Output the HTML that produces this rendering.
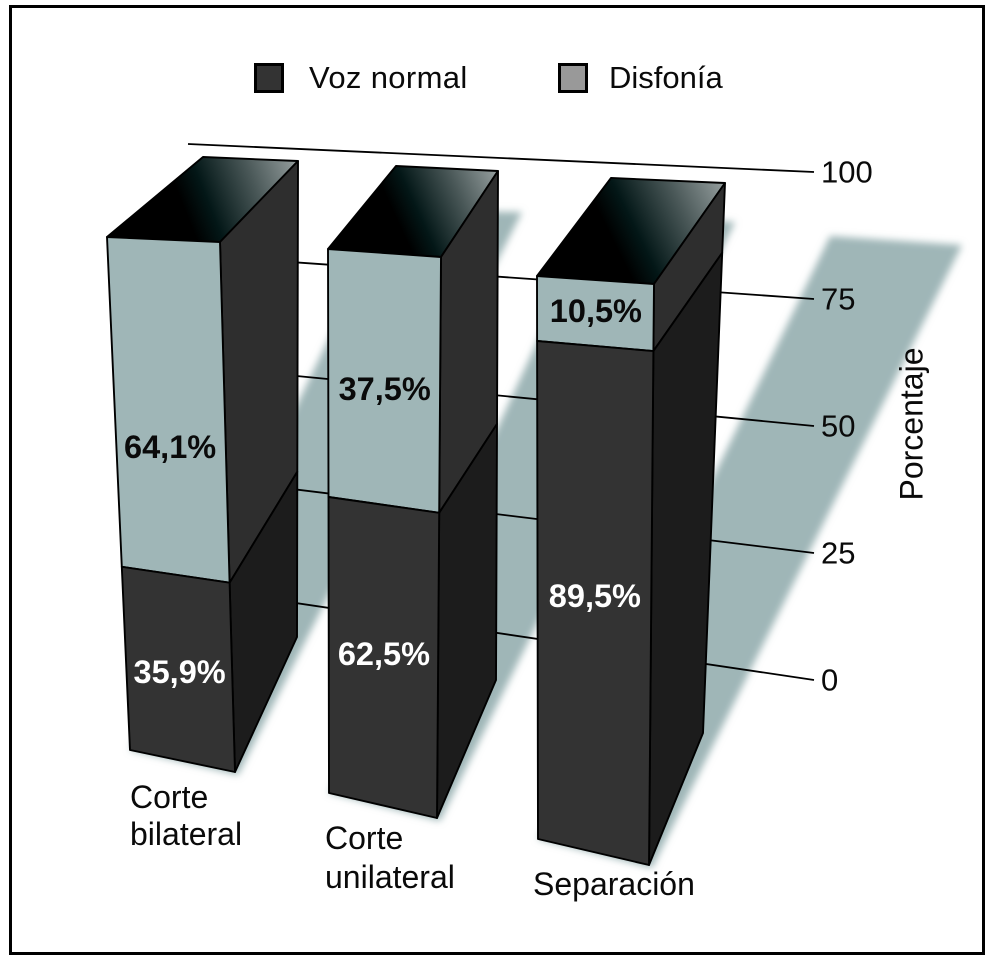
<!DOCTYPE html>
<html lang="es">
<head>
<meta charset="utf-8">
<title>Voz normal y disfonía por tipo de corte</title>
<style>
html,body{margin:0;padding:0;background:#fff;}
svg{display:block;}
text{font-family:"Liberation Sans",Arial,sans-serif;fill:#0a0a0a;}
</style>
</head>
<body>
<svg id="chart" xmlns="http://www.w3.org/2000/svg" width="995" height="960" viewBox="0 0 995 960">
  <defs id="defs">
    <filter id="shadowBlur" x="-10%" y="-10%" width="120%" height="120%">
      <feGaussianBlur stdDeviation="3.6"/>
    </filter>
  </defs>
  <rect x="10.5" y="6.5" width="973" height="947" fill="#fff" stroke="#000" stroke-width="3"/>
  <g>
    <rect x="255.5" y="64.5" width="27" height="27" fill="#333" stroke="#000" stroke-width="3"/>
    <text x="309" y="88" font-size="31" letter-spacing="0.35">Voz normal</text>
    <rect x="559.5" y="64.5" width="27" height="27" fill="#999" stroke="#000" stroke-width="3"/>
    <text x="609" y="88" font-size="31">Disfonía</text>
  </g>
  <g id="shadows" filter="url(#shadowBlur)"></g>
  <g id="grid"></g>
  <g id="ticks"></g>
  <g id="bars"></g>
  <g id="categories"></g>
  <text transform="translate(922.5 424) rotate(-90)" text-anchor="middle" font-size="32">Porcentaje</text>
</svg>
<script>
// ---- data ----
const categories = [["Corte", "bilateral"], ["Corte", "unilateral"], ["Separación"]];
const vozNormal = [35.9, 62.5, 89.5];
const disfonia = [64.1, 37.5, 10.5];
const tickValues = [0, 25, 50, 75, 100];
const tickLabels = ["0", "25", "50", "75", "100"];

// ---- layout: perspective frame of each bar (value 0 and value 100 of each vertical edge) ----
const barFrames = [
  { fl:[130,750,107,237], fr:[235,772,220,242], br:[297,637,298,161], bl:[203,157],
    frontWarp:1.005, backWarp:1.033, shadowTop:[[391,210],[522,212]], nudge:[4,40] },
  { fl:[329,793,328,249], fr:[437,818,441,257], br:[496,680,498,171], bl:[396,166],
    frontWarp:1.295, backWarp:1.462, shadowTop:[[597,212],[735,222]], nudge:[-1,10] },
  { fl:[538,839,537,276], fr:[649,865,654,284], br:[703,733,725,183], bl:[611,178],
    frontWarp:1.106, backWarp:1.223, shadowTop:[[830,236],[962,245]], nudge:[-3,-2] }
];
const categoryAnchors = [
  { x:130, y:[808,845] },
  { x:325, y:[849,888] },
  { x:533, y:[895] }
];

const NS = "http://www.w3.org/2000/svg";
function svgEl(tag, attrs, parent) {
  const el = document.createElementNS(NS, tag);
  for (const k in attrs) el.setAttribute(k, attrs[k]);
  parent.appendChild(el);
  return el;
}
function lerp(a, b, t) { return a + (b - a) * t; }
function pts(list) { return list.map(p => p[0].toFixed(1) + "," + p[1].toFixed(1)).join(" "); }

// ---- axis functions ----
const gridX0 = 188, gridX1 = 814;
function gridLeftY(v) { return lerp(587, 144, v / 100); }
function gridRightY(v) { return lerp(680, 172, v / 100); }

function edgePoint(edge, v, warp) {
  const t = Math.pow(Math.max(0, v) / 100, warp);
  return [lerp(edge[0], edge[2], t), lerp(edge[1], edge[3], t)];
}
function frontLeft(f, v) { return edgePoint(f.fl, v, f.frontWarp); }
function frontRight(f, v) { return edgePoint(f.fr, v, f.frontWarp); }
function backRight(f, v) { return edgePoint(f.br, v, f.backWarp); }
function backLeft(f, v) {
  // hidden rear-left corner follows the rear-right edge
  const p = backRight(f, v), top = backRight(f, 100);
  return [f.bl[0] + (p[0] - top[0]), f.bl[1] + (p[1] - top[1])];
}

const defs = document.getElementById("defs");
const gridG = document.getElementById("grid");
const ticksG = document.getElementById("ticks");
const barsG = document.getElementById("bars");
const shadowsG = document.getElementById("shadows");
const catG = document.getElementById("categories");

// ---- shadows ----
barFrames.forEach(function (f, i) {
  const t = (vozNormal[i] + disfonia[i]) / 100;
  const a = [f.fl[0], f.fl[1]], b = [f.fr[0] + 3, f.fr[1] + 3];
  const tl = [lerp(a[0], f.shadowTop[0][0], t), lerp(a[1], f.shadowTop[0][1], t)];
  const tr = [lerp(b[0], f.shadowTop[1][0], t), lerp(b[1], f.shadowTop[1][1], t)];
  const s = svgEl("polygon", { points: pts([a, b, tr, tl]), fill: "#9fb6b7" }, shadowsG);
  
  
});

// ---- grid and ticks ----
tickValues.forEach(function (v, i) {
  const line = svgEl("line", { x1: gridX0, y1: gridLeftY(v), x2: gridX1, y2: gridRightY(v), stroke: "#000", "stroke-width": 1.8 }, gridG);
  
  
  const label = svgEl("text", { x: 821, y: gridRightY(v) + 10.5, "font-size": 31 }, ticksG);
  label.textContent = tickLabels[i];
  
  
});

// ---- bars ----
function formatPercent(v) { return v.toFixed(1).replace(".", ",") + "%"; }

function topGradient(f, total, i) {
  const p0 = frontLeft(f, total), p1 = backRight(f, total);
  const grad = svgEl("linearGradient", { id: "topGradient" + i, gradientUnits: "userSpaceOnUse", x1: p0[0], y1: p0[1], x2: p1[0], y2: p1[1] }, defs);
  svgEl("stop", { offset: 0, "stop-color": "#000" }, grad);
  svgEl("stop", { offset: 0.4, "stop-color": "#000" }, grad);
  svgEl("stop", { offset: 0.52, "stop-color": "#031717" }, grad);
  svgEl("stop", { offset: 0.76, "stop-color": "#4a5858" }, grad);
  svgEl("stop", { offset: 1, "stop-color": "#969f9f" }, grad);
  return "url(#topGradient" + i + ")";
}

barFrames.forEach(function (f, i) {
  const split = vozNormal[i];
  const total = vozNormal[i] + disfonia[i];
  const g = svgEl("g", {}, barsG);
  
  
  const stroke = { stroke: "#000", "stroke-width": 1.9, "stroke-linejoin": "round" };

  const top = svgEl("polygon", Object.assign({ points: pts([frontLeft(f, total), frontRight(f, total), backRight(f, total), backLeft(f, total)]), fill: topGradient(f, total, i) }, stroke), g);
  
  

  const sideUpper = svgEl("polygon", Object.assign({ points: pts([frontRight(f, split), backRight(f, split), backRight(f, total), frontRight(f, total)]), fill: "#2e2e2e" }, stroke), g);
  
  

  const sideLower = svgEl("polygon", Object.assign({ points: pts([frontRight(f, 0), backRight(f, 0), backRight(f, split), frontRight(f, split)]), fill: "#1c1c1c" }, stroke), g);
  
  

  const frontUpper = svgEl("polygon", Object.assign({ points: pts([frontLeft(f, split), frontRight(f, split), frontRight(f, total), frontLeft(f, total)]), fill: "#9fb6b7" }, stroke), g);
  
  

  const frontLower = svgEl("polygon", Object.assign({ points: pts([frontLeft(f, 0), frontRight(f, 0), frontRight(f, split), frontLeft(f, split)]), fill: "#333333" }, stroke), g);
  
  

  function segmentCentre(from, to) {
    const l0 = frontLeft(f, from), l1 = frontLeft(f, to), r0 = frontRight(f, from), r1 = frontRight(f, to);
    return [(l0[0] + l1[0] + r0[0] + r1[0]) / 4, (l0[1] + l1[1] + r0[1] + r1[1]) / 4];
  }
  const cLow = segmentCentre(0, split);
  const lowLabel = svgEl("text", { x: cLow[0] + 0.5, y: cLow[1] + f.nudge[0] + 11, "font-size": 32.5, "font-weight": "bold", "text-anchor": "middle", style: "fill:#fff" }, g);
  lowLabel.textContent = formatPercent(vozNormal[i]);
  
  

  const cHigh = segmentCentre(split, total);
  const highLabel = svgEl("text", { x: cHigh[0] + 0.5, y: cHigh[1] + f.nudge[1] + 11, "font-size": 32.5, "font-weight": "bold", "text-anchor": "middle" }, g);
  highLabel.textContent = formatPercent(disfonia[i]);
  
  
});

// ---- category labels ----
categories.forEach(function (lines, i) {
  lines.forEach(function (txt, j) {
    const t = svgEl("text", { x: categoryAnchors[i].x, y: categoryAnchors[i].y[j], "font-size": 32 }, catG);
    t.textContent = txt;
    
    
  });
});
</script>
</body>
</html>
